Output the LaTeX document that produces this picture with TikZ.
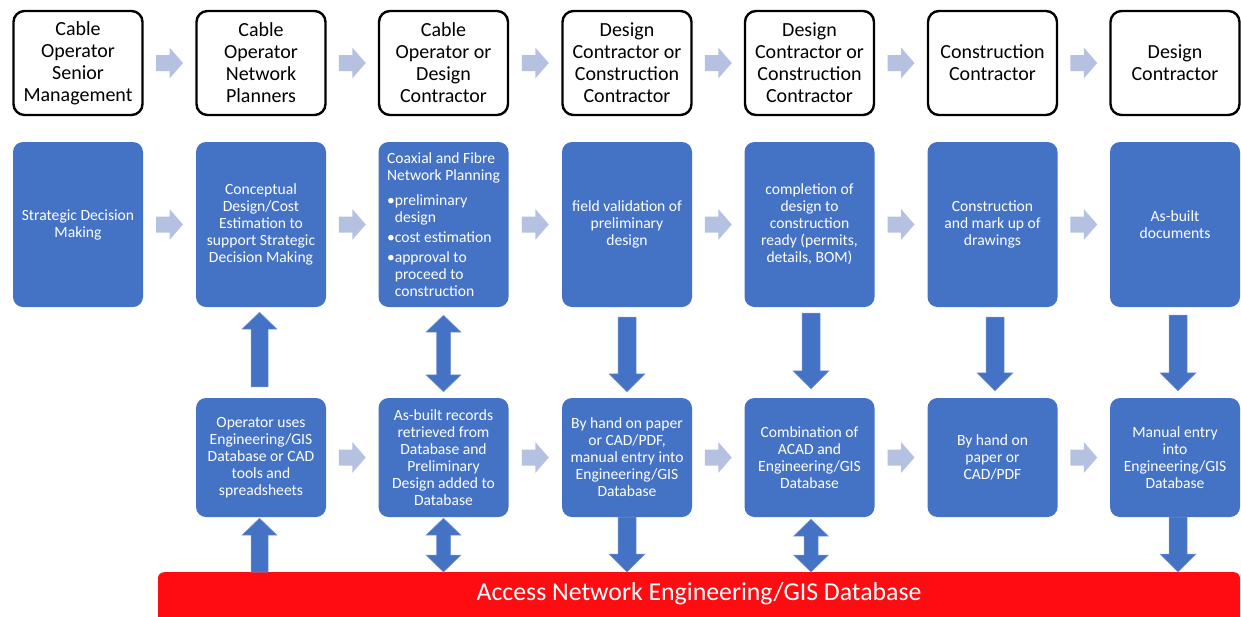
\documentclass[tikz,border=0pt]{standalone}
\usepackage{fontspec}
\setmainfont{Carlito}
\usetikzlibrary{calc}
\definecolor{boxblue}{RGB}{68,114,196}
\definecolor{lightarrow}{RGB}{180,193,225}
\definecolor{dbred}{RGB}{255,12,18}
\definecolor{arrowedge}{RGB}{120,150,210}

\newcommand\RightArr[2]{%
  \fill[hblock] let \p1=(#1), \p2=(#2), \p3=($(#1)!0.5!(#2)$) in
    (\x3-13.5pt,\y1+8pt) -- (\x3,\y1+8pt) -- (\x3,\y1+15.5pt) -- (\x3+13.5pt,\y1)
    -- (\x3,\y1-15.5pt) -- (\x3,\y1-8pt) -- (\x3-13.5pt,\y1-8pt) -- cycle;}
\newcommand\DownArr[2]{% #1 shaft top, #2 tip
  \filldraw[vblock] let \p1=(#1), \p2=(#2) in
    (\x1-9pt,\y1) -- (\x1+9pt,\y1) -- (\x1+9pt,\y2+18pt) -- (\x1+18pt,\y2+18pt)
    -- (\x1,\y2) -- (\x1-18pt,\y2+18pt) -- (\x1-9pt,\y2+18pt) -- cycle;}
\newcommand\UpArr[2]{% #1 shaft bottom, #2 tip
  \filldraw[vblock] let \p1=(#1), \p2=(#2) in
    (\x1-8.5pt,\y1) -- (\x1+8.5pt,\y1) -- (\x1+8.5pt,\y2-17pt) -- (\x1+17.5pt,\y2-17pt)
    -- (\x1,\y2) -- (\x1-17.5pt,\y2-17pt) -- (\x1-8.5pt,\y2-17pt) -- cycle;}
\newcommand\BothArr[2]{% #1 top tip, #2 bottom tip
  \filldraw[vblock] let \p1=(#1), \p2=(#2) in
    (\x1,\y1) -- (\x1+17.5pt,\y1-17pt) -- (\x1+7pt,\y1-17pt) -- (\x1+7pt,\y2+17pt)
    -- (\x1+17.5pt,\y2+17pt) -- (\x1,\y2) -- (\x1-17.5pt,\y2+17pt) -- (\x1-7pt,\y2+17pt)
    -- (\x1-7pt,\y1-17pt) -- (\x1-17.5pt,\y1-17pt) -- cycle;}

\begin{document}
\begin{tikzpicture}[x=1pt,y=-1pt,
  rolebox/.style={draw=black, line width=2.4pt, fill=white, rounded corners=11pt,
    minimum width=129pt, minimum height=104pt, inner sep=0pt, align=center,
    font=\fontsize{20}{22}\selectfont},
  stepbox/.style={fill=boxblue, rounded corners=10pt, minimum width=130pt,
    minimum height=165pt, inner sep=0pt, align=center, text=white,
    font=\fontsize{15.6}{17}\selectfont},
  databox/.style={stepbox, minimum height=119pt},
  hblock/.style={fill=lightarrow},
  vblock/.style={fill=boxblue, draw=arrowedge, line width=0.5pt},
  dbbar/.style={fill=dbred, rounded corners=6pt, minimum width=1082pt,
    minimum height=80pt, inner sep=0pt, anchor=north},
  dbtext/.style={text=white, font=\fontsize{25.8}{30}\selectfont, inner sep=0pt}
]
\path[use as bounding box, clip] (0,0) rectangle (1241,616);

% top row: roles
\node[rolebox] (r1) at (78,63) {Cable\\Operator\\Senior\\Management};
\node[rolebox] (r2) at (261,63) {Cable\\Operator\\Network\\Planners};
\node[rolebox] (r3) at (443.5,63) {Cable\\Operator or\\Design\\Contractor};
\node[rolebox] (r4) at (627,63) {Design\\Contractor or\\Construction\\Contractor};
\node[rolebox] (r5) at (809.5,63) {Design\\Contractor or\\Construction\\Contractor};
\node[rolebox] (r6) at (992.5,63) {Construction\\Contractor};
\node[rolebox] (r7) at (1175,63) {Design\\Contractor};

% middle row: steps
\node[stepbox] (m1) at (78,224.5) {Strategic Decision\\Making};
\node[stepbox] (m2) at (261,224.5) {Conceptual\\Design/Cost\\Estimation to\\support Strategic\\Decision Making};
\node[stepbox, align=left] (m3) at (443.5,224.5) {Coaxial and Fibre\\Network Planning\\[8pt]
  \textbullet preliminary\\\hphantom{\textbullet}design\\[3pt]
  \textbullet cost estimation\\[3pt]
  \textbullet approval to\\\hphantom{\textbullet}proceed to\\\hphantom{\textbullet}construction};
\node[stepbox] (m4) at (627,224.5) {field validation of\\preliminary\\design};
\node[stepbox] (m5) at (809.5,224.5) {completion of\\design to\\construction\\ready (permits,\\details, BOM)};
\node[stepbox] (m6) at (992.5,224.5) {Construction\\and mark up of\\drawings};
\node[stepbox] (m7) at (1175,224.5) {As-built\\documents};

% bottom row: data handling
\node[databox] (b2) at (261,457.5) {Operator uses\\Engineering/GIS\\Database or CAD\\tools and\\spreadsheets};
\node[databox] (b3) at (443.5,457.5) {As-built records\\retrieved from\\Database and\\Preliminary\\Design added to\\Database};
\node[databox] (b4) at (627,457.5) {By hand on paper\\or CAD/PDF,\\manual entry into\\Engineering/GIS\\Database};
\node[databox] (b5) at (809.5,457.5) {Combination of\\ACAD and\\Engineering/GIS\\Database};
\node[databox] (b6) at (992.5,457.5) {By hand on\\paper or\\CAD/PDF};
\node[databox] (b7) at (1175,457.5) {Manual entry\\into\\Engineering/GIS\\Database};

% database bar
\node[dbbar] (db) at (699,572) {};
\node[dbtext] (dbt) at (699,594) {Access Network Engineering/GIS Database};

% horizontal arrows
\RightArr{r1.east}{r2.west}
\RightArr{r2.east}{r3.west}
\RightArr{r3.east}{r4.west}
\RightArr{r4.east}{r5.west}
\RightArr{r5.east}{r6.west}
\RightArr{r6.east}{r7.west}
\RightArr{m1.east}{m2.west}
\RightArr{m2.east}{m3.west}
\RightArr{m3.east}{m4.west}
\RightArr{m4.east}{m5.west}
\RightArr{m5.east}{m6.west}
\RightArr{m6.east}{m7.west}
\RightArr{b2.east}{b3.west}
\RightArr{b3.east}{b4.west}
\RightArr{b4.east}{b5.west}
\RightArr{b5.east}{b6.west}
\RightArr{b6.east}{b7.west}

% vertical arrows
\UpArr{$(b2.north)+(-1.5,-11)$}{$(m2.south)+(-1.5,5)$}
\UpArr{$(b2 |- db.north)+(-1.5,0)$}{$(b2.south)+(-1.5,1)$}
\BothArr{$(m3.south)+(0,8)$}{$(b3.north)+(0,-6)$}
\BothArr{$(b3.south)+(0,1)$}{b3 |- db.north}
\DownArr{$(m4.south)+(0,10)$}{$(b4.north)+(0,-6)$}
\DownArr{b4.south}{b4 |- db.north}
\DownArr{$(m5.south)+(1.5,6)$}{$(b5.north)+(1.5,-9)$}
\BothArr{$(b5.south)+(1.5,2)$}{$(b5 |- db.north)+(1.5,0)$}
\DownArr{$(m6.south)+(2.5,10)$}{$(b6.north)+(2.5,-7)$}
\DownArr{$(m7.south)+(3,8)$}{$(b7.north)+(3,-7)$}
\DownArr{$(b7.south)+(3,0)$}{$(b7 |- db.north)+(3,0)$}
\end{tikzpicture}
\end{document}
